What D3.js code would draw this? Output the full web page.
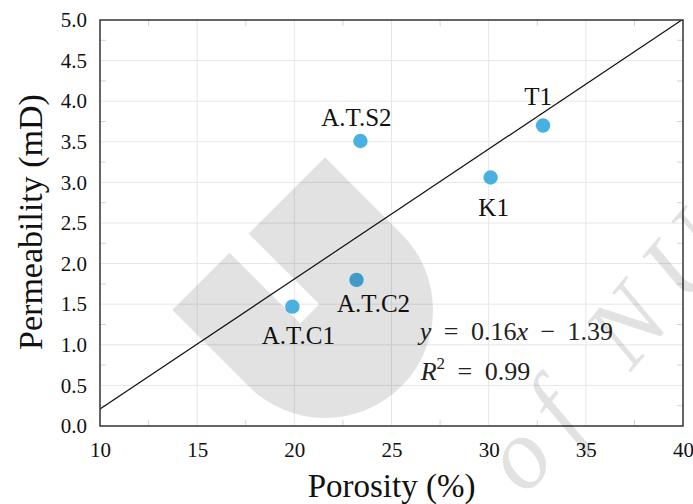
<!DOCTYPE html>
<html>
<head>
<meta charset="utf-8">
<script src="https://cdn.jsdelivr.net/npm/d3@7/dist/d3.min.js"></script>
<style>
  body { margin: 0; background: #fff; }
  svg text { font-family: "Liberation Serif", "Times New Roman", serif; }
</style>
</head>
<body>
<div id="chart"></div>
<script>
// values
var sample_names        = ["A.T.C1", "A.T.C2", "A.T.S2", "K1", "T1"];
var porosity_values     = [19.9, 23.2, 23.4, 30.1, 32.8];
var permeability_values = [1.47, 1.80, 3.51, 3.06, 3.70];
var x_tick_values       = [10, 15, 20, 25, 30, 35, 40];
var y_tick_values       = [0, 0.5, 1, 1.5, 2, 2.5, 3, 3.5, 4, 4.5, 5];
var fit_slope           = 0.16;
var fit_intercept       = -1.39;
var fit_r_squared       = 0.99;

var width_chart  = 693;
var height_chart = 504;
var margin_chart = {top: 20, right: 10, bottom: 78, left: 100};
var inner_width  = width_chart - margin_chart.left - margin_chart.right;
var inner_height = height_chart - margin_chart.top - margin_chart.bottom;

// where each point label sits relative to its point (px)
var label_offset = {
  "A.T.C1": {dx: 6,    dy: 37},
  "A.T.C2": {dx: 17,   dy: 32},
  "A.T.S2": {dx: -4,   dy: -15},
  "K1":     {dx: 3,    dy: 38},
  "T1":     {dx: -5,   dy: -21}
};

var points = sample_names.map(function (name, i) {
  return {name: name, x: porosity_values[i], y: permeability_values[i]};
});

var x_scale = d3.scaleLinear().domain([10, 40]).range([0, inner_width]);
var y_scale = d3.scaleLinear().domain([0, 5]).range([inner_height, 0]);

var svg = d3.select("#chart").append("svg")
  .attr("width", width_chart)
  .attr("height", height_chart);

var defs = svg.append("defs");
defs.append("clipPath").attr("id", "plot-clip")
  .append("rect")
  .attr("width", inner_width)
  .attr("height", inner_height);

var plot = svg.append("g")
  .attr("transform", "translate(" + margin_chart.left + "," + margin_chart.top + ")");

// grid
plot.append("g").selectAll("line.gx")
  .data(x_tick_values.slice(1, -1))
  .join("line")
  .attr("x1", function (d) { return x_scale(d); })
  .attr("x2", function (d) { return x_scale(d); })
  .attr("y1", 0)
  .attr("y2", inner_height)
  .attr("stroke", "#e6e6e6")
  .attr("stroke-width", 1);

plot.append("g").selectAll("line.gy")
  .data(y_tick_values.slice(1, -1))
  .join("line")
  .attr("x1", 0)
  .attr("x2", inner_width)
  .attr("y1", function (d) { return y_scale(d); })
  .attr("y2", function (d) { return y_scale(d); })
  .attr("stroke", "#e6e6e6")
  .attr("stroke-width", 1);

// small minor ticks on the inside of the frame
var x_minor = d3.range(12.5, 40, 5);
var y_minor = d3.range(0.25, 5, 0.5);
var minor_len = 6;
var minor = plot.append("g").attr("stroke", "#d4d4d4").attr("stroke-width", 1);
x_minor.forEach(function (v) {
  minor.append("line").attr("x1", x_scale(v)).attr("x2", x_scale(v))
    .attr("y1", inner_height).attr("y2", inner_height - minor_len);
  minor.append("line").attr("x1", x_scale(v)).attr("x2", x_scale(v))
    .attr("y1", 0).attr("y2", minor_len);
});
y_minor.forEach(function (v) {
  minor.append("line").attr("y1", y_scale(v)).attr("y2", y_scale(v))
    .attr("x1", 0).attr("x2", minor_len);
  minor.append("line").attr("y1", y_scale(v)).attr("y2", y_scale(v))
    .attr("x1", inner_width).attr("x2", inner_width - minor_len);
});

// fit line
var fit_line = d3.line()
  .x(function (d) { return x_scale(d); })
  .y(function (d) { return y_scale(fit_slope*d + fit_intercept); });

plot.append("path")
  .datum(x_scale.domain())
  .attr("clip-path", "url(#plot-clip)")
  .attr("d", fit_line)
  .attr("fill", "none")
  .attr("stroke", "#111")
  .attr("stroke-width", 1.2);

// points
plot.append("g").selectAll("circle")
  .data(points)
  .join("circle")
  .attr("cx", function (d) { return x_scale(d.x); })
  .attr("cy", function (d) { return y_scale(d.y); })
  .attr("r", 7.2)
  .attr("fill", "#48b1e2");

plot.append("g").selectAll("text")
  .data(points)
  .join("text")
  .attr("x", function (d) { return x_scale(d.x) + label_offset[d.name].dx; })
  .attr("y", function (d) { return y_scale(d.y) + label_offset[d.name].dy; })
  .attr("text-anchor", "middle")
  .attr("font-size", 25)
  .attr("fill", "#111")
  .text(function (d) { return d.name; });

// equation
var eq = plot.append("g")
  .attr("fill", "#222")
  .attr("font-size", 26)
  .attr("word-spacing", 6);

var eq_line1 = eq.append("text")
  .attr("x", x_scale(26.45))
  .attr("y", y_scale(1.06));
eq_line1.append("tspan").attr("font-style", "italic").text("y");
eq_line1.append("tspan").text(" = " + fit_slope.toFixed(2));
eq_line1.append("tspan").attr("font-style", "italic").text("x");
eq_line1.append("tspan").text(" \u2212 " + Math.abs(fit_intercept).toFixed(2));

var eq_line2 = eq.append("text")
  .attr("x", x_scale(26.5))
  .attr("y", y_scale(0.57));
eq_line2.append("tspan").attr("font-style", "italic").text("R");
eq_line2.append("tspan").attr("font-size", 17).attr("dy", -11).text("2");
eq_line2.append("tspan").attr("dy", 11).text(" = " + fit_r_squared.toFixed(2));

// frame
plot.append("rect")
  .attr("width", inner_width)
  .attr("height", inner_height)
  .attr("fill", "none")
  .attr("stroke", "#333")
  .attr("stroke-width", 1.5);

// axes
var x_axis = plot.append("g")
  .attr("transform", "translate(0," + inner_height + ")")
  .call(d3.axisBottom(x_scale)
    .tickValues(x_tick_values)
    .tickSize(0)
    .tickPadding(16)
    .tickFormat(d3.format("d")));

var y_axis = plot.append("g")
  .call(d3.axisLeft(y_scale)
    .tickValues(y_tick_values)
    .tickSize(0)
    .tickPadding(13)
    .tickFormat(d3.format(".1f")));

[x_axis, y_axis].forEach(function (a) {
  a.select(".domain").remove();
  a.selectAll("text")
    .attr("font-family", "Liberation Serif, serif")
    .attr("font-size", 21)
    .attr("fill", "#111");
});

svg.append("text")
  .attr("x", margin_chart.left + inner_width/2)
  .attr("y", 497)
  .attr("text-anchor", "middle")
  .attr("font-size", 33)
  .attr("fill", "#111")
  .text("Porosity (%)");

svg.append("text")
  .attr("transform", "translate(42," + 222 + ") rotate(-90)")
  .attr("text-anchor", "middle")
  .attr("font-size", 34)
  .attr("fill", "#111")
  .text("Permeability (mD)");

// faint watermark lying over the picture
var mask = defs.append("mask").attr("id", "wm-mask");
mask.append("rect").attr("x", -200).attr("y", -200).attr("width", 400).attr("height", 400).attr("fill", "#fff");
mask.append("rect").attr("x", -120).attr("y", 0).attr("width", 112).attr("height", 27).attr("fill", "#000");

var wm = svg.append("g").attr("opacity", 0.11).attr("pointer-events", "none");
var wm_logo = wm.append("g").attr("transform", "translate(325,310) rotate(45)");
wm_logo.append("path")
  .attr("mask", "url(#wm-mask)")
  .attr("d", "M0,-108 A108,108 0 0 1 0,108 L-108,108 L-108,-108 Z")
  .attr("fill", "#000");

wm.append("text")
  .attr("transform", "translate(526,497) rotate(-50)")
  .attr("font-size", 100)
  .attr("font-style", "italic")
  .attr("letter-spacing", 20)
  .attr("fill", "#000")
  .text("of NU");
</script>
</body>
</html>
